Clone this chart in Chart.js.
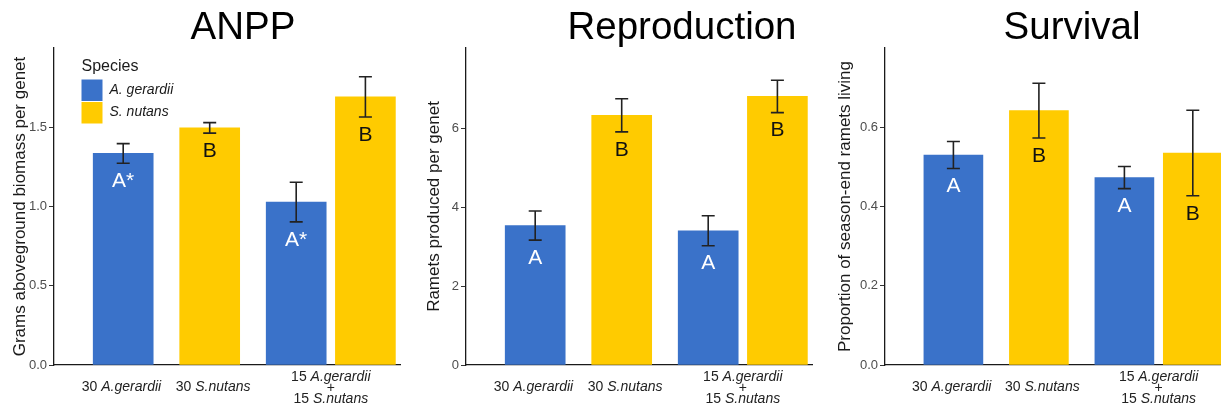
<!DOCTYPE html>
<html>
<head>
<meta charset="utf-8">
<script src="https://cdn.jsdelivr.net/npm/chart.js@4.4.1/dist/chart.umd.min.js"></script>
<style>
  html, body { margin: 0; padding: 0; background: #fff; overflow: hidden; width: 1221px; height: 411px; position: relative; }
  canvas { position: absolute; top: 0; }
</style>
</head>
<body>
<canvas id="anpp" width="407" height="411" style="left:0px"></canvas>
<canvas id="repro" width="407" height="411" style="left:407px"></canvas>
<canvas id="surv" width="416" height="411" style="left:814px"></canvas>
<script>
const FONT = '"Liberation Sans", Arial, Helvetica, sans-serif';

// Species and their fill colours
const speciesNames = ['A. gerardii', 'S. nutans'];
const speciesColors = ['#3A72C9', '#FFCB00'];

// Bar order: A. gerardii alone, S. nutans alone, A. gerardii in mixture, S. nutans in mixture
const barSpecies = [0, 1, 0, 1];
const barPositions = [2, 4.5, 7, 9];

// Planting treatments on the x axis (upright part, italic part) per line
const categoryPositions = [1.95, 4.6, 8];
const categoryLabels = [
  [['30 ', 'A.gerardii']],
  [['30 ', 'S.nutans']],
  [['15 ', 'A.gerardii'], ['+', ''], ['15 ', 'S.nutans']]
];

// ANPP: grams aboveground biomass per genet
const anppMeans = [1.335, 1.496, 1.028, 1.692];
const anppErrors = [0.062, 0.033, 0.125, 0.127];
const anppLetters = ['A*', 'B', 'A*', 'B'];
const anppTicks = [0, 0.5, 1.0, 1.5];

// Reproduction: ramets produced per genet
const reproMeans = [3.54, 6.34, 3.41, 6.82];
const reproErrors = [0.37, 0.42, 0.38, 0.41];
const reproLetters = ['A', 'B', 'A', 'B'];
const reproTicks = [0, 2, 4, 6];

// Survival: proportion of season-end ramets living
const survMeans = [0.530, 0.642, 0.473, 0.535];
const survErrors = [0.034, 0.069, 0.028, 0.108];
const survLetters = ['A', 'B', 'A', 'B'];
const survTicks = [0, 0.2, 0.4, 0.6];

// Draws the panel title, error bars, significance letters, treatment labels and legend
const panelDecor = {
  id: 'panelDecor',
  afterDatasetsDraw(chart, args, opts) {
    const ctx = chart.ctx;
    const xs = chart.scales.x, ys = chart.scales.y;
    ctx.save();
    // error bars
    ctx.strokeStyle = '#222';
    ctx.lineWidth = 1.6;
    opts.means.forEach((m, i) => {
      const cx = xs.getPixelForValue(barPositions[i]);
      const yTop = ys.getPixelForValue(m + opts.errors[i]);
      const yBot = ys.getPixelForValue(m - opts.errors[i]);
      ctx.beginPath();
      ctx.moveTo(cx, yTop); ctx.lineTo(cx, yBot);
      ctx.moveTo(cx - 6.5, yTop); ctx.lineTo(cx + 6.5, yTop);
      ctx.moveTo(cx - 6.5, yBot); ctx.lineTo(cx + 6.5, yBot);
      ctx.stroke();
    });
    // significance letters under each error bar
    ctx.font = '21px ' + FONT;
    ctx.textAlign = 'center';
    ctx.textBaseline = 'middle';
    opts.letters.forEach((t, i) => {
      const cx = xs.getPixelForValue(barPositions[i]);
      const yBot = ys.getPixelForValue(opts.means[i] - opts.errors[i]);
      ctx.fillStyle = barSpecies[i] === 0 ? '#FFFFFF' : '#111111';
      ctx.fillText(t, cx, yBot + 18);
    });
    ctx.restore();
  },
  afterDraw(chart, args, opts) {
    const ctx = chart.ctx;
    const xs = chart.scales.x;
    const area = chart.chartArea;
    ctx.save();
    // title
    ctx.fillStyle = '#000';
    ctx.font = '38.5px ' + FONT;
    ctx.textAlign = 'center';
    ctx.textBaseline = 'alphabetic';
    ctx.fillText(opts.title, opts.titleX, 39);

    // treatment labels with italic species names
    ctx.fillStyle = '#222';
    ctx.textBaseline = 'middle';
    ctx.textAlign = 'left';
    const upright = '14px ' + FONT, italic = 'italic 14px ' + FONT;
    categoryLabels.forEach((lines, c) => {
      const cx = xs.getPixelForValue(categoryPositions[c]);
      lines.forEach((runs, k) => {
        const y = lines.length === 1 ? area.bottom + 21.7 : area.bottom + 12.3 + k * 10.8;
        ctx.font = upright; const w0 = ctx.measureText(runs[0]).width;
        ctx.font = italic; const w1 = ctx.measureText(runs[1]).width;
        const x = cx - (w0 + w1) / 2;
        ctx.font = upright; ctx.fillText(runs[0], x, y);
        ctx.font = italic; ctx.fillText(runs[1], x + w0, y);
      });
    });

    // legend
    if (opts.legend) {
      const L = opts.legend;
      ctx.fillStyle = '#1A1A1A';
      ctx.font = '16px ' + FONT;
      ctx.textBaseline = 'alphabetic';
      ctx.fillText('Species', L.x, L.y);
      chart.data.datasets.forEach((ds, s) => {
        const by = L.y + 9 + s * 22.5;
        ctx.fillStyle = ds.backgroundColor;
        ctx.fillRect(L.x, by, 21, 21.5);
        ctx.fillStyle = '#1A1A1A';
        ctx.font = 'italic 14px ' + FONT;
        ctx.textBaseline = 'middle';
        ctx.fillText(ds.label, L.x + 28, by + 10.5);
      });
    }
    ctx.restore();
  }
};

function buildDatasets(means, barWidth) {
  return speciesNames.map((name, s) => ({
    label: name,
    backgroundColor: speciesColors[s],
    borderWidth: 0,
    grouped: false,
    barThickness: barWidth,
    data: means.map((m, i) => ({ x: barPositions[i], y: m })).filter((p, i) => barSpecies[i] === s)
  }));
}

function makePanel(id, cfg) {
  new Chart(document.getElementById(id), {
    type: 'bar',
    data: { datasets: buildDatasets(cfg.means, cfg.barWidth) },
    options: {
      responsive: false,
      animation: false,
      events: [],
      layout: { padding: { left: 0, right: cfg.padRight, top: 48, bottom: 0 } },
      scales: {
        x: {
          type: 'linear', min: 0, max: 10, offset: false,
          ticks: { display: false },
          grid: { display: false },
          border: { display: true, color: '#1A1A1A', width: 1.3 },
          afterFit: s => { s.height = 46; }
        },
        y: {
          min: 0, max: cfg.yMax,
          afterBuildTicks: s => { s.ticks = cfg.ticks.map(v => ({ value: v })); },
          afterFit: s => { s.width = cfg.yWidth; },
          ticks: {
            callback: cfg.fmt,
            font: { family: FONT, size: 13 },
            color: '#4D4D4D',
            padding: 2
          },
          grid: { drawOnChartArea: false, drawTicks: true, tickLength: 5, color: '#333', lineWidth: 1 },
          border: { display: true, color: '#1A1A1A', width: 1.3 },
          title: {
            display: true, text: cfg.yTitle, color: '#1A1A1A',
            font: { family: FONT, size: 17 },
            padding: { top: cfg.titlePad, bottom: 0 }
          }
        }
      },
      plugins: {
        legend: { display: false },
        tooltip: { enabled: false },
        title: { display: false },
        panelDecor: {
          title: cfg.title, titleX: cfg.titleX,
          means: cfg.means, errors: cfg.errors, letters: cfg.letters,
          legend: cfg.legend || null
        }
      }
    },
    plugins: [panelDecor]
  });
}

makePanel('anpp', {
  title: 'ANPP', titleX: 243,
  means: anppMeans, errors: anppErrors, letters: anppLetters, ticks: anppTicks,
  yMax: 2.0, fmt: v => v.toFixed(1),
  yTitle: 'Grams aboveground biomass per genet', titlePad: 10,
  yWidth: 54, padRight: 7, barWidth: 60,
  legend: { x: 81.5, y: 70.5 }
});

makePanel('repro', {
  title: 'Reproduction', titleX: 275,
  means: reproMeans, errors: reproErrors, letters: reproLetters, ticks: reproTicks,
  yMax: 8.05, fmt: v => String(v),
  yTitle: 'Ramets produced per genet', titlePad: 17,
  yWidth: 59, padRight: 2, barWidth: 60
});

makePanel('surv', {
  title: 'Survival', titleX: 258,
  means: survMeans, errors: survErrors, letters: survLetters, ticks: survTicks,
  yMax: 0.8, fmt: v => v.toFixed(1),
  yTitle: 'Proportion of season-end ramets living', titlePad: 21,
  yWidth: 71, padRight: 3, barWidth: 59
});
</script>
</body>
</html>
